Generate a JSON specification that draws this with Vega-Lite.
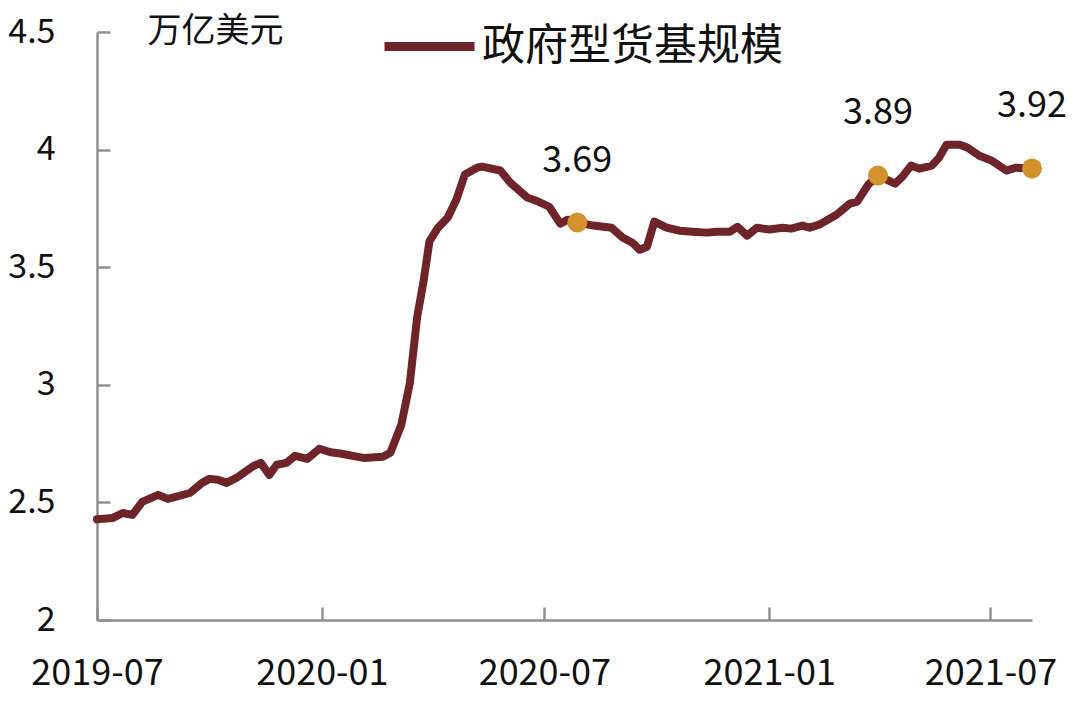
{
  "$schema": "https://vega.github.io/schema/vega-lite/v6.json",
  "width": 935,
  "height": 588,
  "autosize": {"type": "none"},
  "padding": {"left": 97, "top": 32, "right": 48, "bottom": 104},
  "background": "#ffffff",
  "config": {"view": {"stroke": null}},
  "datasets": {
    "series": [
      {"date": "2019-07-01", "value": 2.428},
      {"date": "2019-07-14", "value": 2.434},
      {"date": "2019-07-22", "value": 2.455},
      {"date": "2019-07-30", "value": 2.447},
      {"date": "2019-08-07", "value": 2.502},
      {"date": "2019-08-20", "value": 2.532},
      {"date": "2019-08-28", "value": 2.515},
      {"date": "2019-09-15", "value": 2.540},
      {"date": "2019-09-25", "value": 2.583},
      {"date": "2019-10-01", "value": 2.600},
      {"date": "2019-10-08", "value": 2.596},
      {"date": "2019-10-15", "value": 2.583},
      {"date": "2019-10-23", "value": 2.604},
      {"date": "2019-11-06", "value": 2.655},
      {"date": "2019-11-12", "value": 2.668},
      {"date": "2019-11-19", "value": 2.617},
      {"date": "2019-11-25", "value": 2.660},
      {"date": "2019-12-03", "value": 2.668},
      {"date": "2019-12-10", "value": 2.698},
      {"date": "2019-12-20", "value": 2.685},
      {"date": "2019-12-30", "value": 2.728},
      {"date": "2020-01-08", "value": 2.713},
      {"date": "2020-01-16", "value": 2.708},
      {"date": "2020-02-04", "value": 2.689},
      {"date": "2020-02-20", "value": 2.694},
      {"date": "2020-02-26", "value": 2.711},
      {"date": "2020-03-06", "value": 2.830},
      {"date": "2020-03-13", "value": 3.009},
      {"date": "2020-03-19", "value": 3.290},
      {"date": "2020-03-24", "value": 3.434},
      {"date": "2020-03-29", "value": 3.610},
      {"date": "2020-04-05", "value": 3.668},
      {"date": "2020-04-13", "value": 3.711},
      {"date": "2020-04-20", "value": 3.787},
      {"date": "2020-04-27", "value": 3.894},
      {"date": "2020-05-07", "value": 3.923},
      {"date": "2020-05-11", "value": 3.928},
      {"date": "2020-05-26", "value": 3.911},
      {"date": "2020-06-03", "value": 3.860},
      {"date": "2020-06-17", "value": 3.796},
      {"date": "2020-06-26", "value": 3.779},
      {"date": "2020-07-05", "value": 3.757},
      {"date": "2020-07-14", "value": 3.685},
      {"date": "2020-07-20", "value": 3.702},
      {"date": "2020-07-28", "value": 3.690},
      {"date": "2020-08-10", "value": 3.677},
      {"date": "2020-08-25", "value": 3.668},
      {"date": "2020-09-03", "value": 3.626},
      {"date": "2020-09-11", "value": 3.604},
      {"date": "2020-09-17", "value": 3.574},
      {"date": "2020-09-23", "value": 3.587},
      {"date": "2020-09-29", "value": 3.694},
      {"date": "2020-10-09", "value": 3.668},
      {"date": "2020-10-20", "value": 3.655},
      {"date": "2020-10-30", "value": 3.651},
      {"date": "2020-11-11", "value": 3.647},
      {"date": "2020-11-19", "value": 3.651},
      {"date": "2020-11-30", "value": 3.651},
      {"date": "2020-12-06", "value": 3.672},
      {"date": "2020-12-14", "value": 3.634},
      {"date": "2020-12-22", "value": 3.668},
      {"date": "2021-01-01", "value": 3.660},
      {"date": "2021-01-12", "value": 3.668},
      {"date": "2021-01-19", "value": 3.664},
      {"date": "2021-01-28", "value": 3.677},
      {"date": "2021-02-03", "value": 3.668},
      {"date": "2021-02-11", "value": 3.681},
      {"date": "2021-02-25", "value": 3.723},
      {"date": "2021-03-08", "value": 3.770},
      {"date": "2021-03-14", "value": 3.779},
      {"date": "2021-03-23", "value": 3.851},
      {"date": "2021-03-31", "value": 3.890},
      {"date": "2021-04-07", "value": 3.872},
      {"date": "2021-04-14", "value": 3.855},
      {"date": "2021-04-20", "value": 3.885},
      {"date": "2021-04-27", "value": 3.932},
      {"date": "2021-05-04", "value": 3.919},
      {"date": "2021-05-14", "value": 3.932},
      {"date": "2021-05-20", "value": 3.966},
      {"date": "2021-05-26", "value": 4.021},
      {"date": "2021-06-06", "value": 4.021},
      {"date": "2021-06-12", "value": 4.009},
      {"date": "2021-06-22", "value": 3.974},
      {"date": "2021-07-02", "value": 3.953},
      {"date": "2021-07-14", "value": 3.911},
      {"date": "2021-07-22", "value": 3.923},
      {"date": "2021-08-04", "value": 3.920}
    ],
    "marks": [
      {"date": "2020-07-28", "value": 3.69, "label": "3.69"},
      {"date": "2021-03-31", "value": 3.89, "label": "3.89"},
      {"date": "2021-08-04", "value": 3.92, "label": "3.92"}
    ]
  },
  "encoding": {
    "x": {
      "field": "date",
      "type": "temporal",
      "scale": {
        "type": "utc",
        "domain": [
          {"year": 2019, "month": 7, "date": 1, "utc": true},
          {"year": 2021, "month": 8, "date": 4, "utc": true}
        ],
        "nice": false
      },
      "axis": {
        "title": null,
        "values": [
          {"year": 2019, "month": 7, "date": 1, "utc": true},
          {"year": 2020, "month": 1, "date": 1, "utc": true},
          {"year": 2020, "month": 7, "date": 1, "utc": true},
          {"year": 2021, "month": 1, "date": 1, "utc": true},
          {"year": 2021, "month": 7, "date": 1, "utc": true}
        ],
        "labelExpr": "utcFormat(datum.value, '%Y-%m')",
        "grid": false,
        "domainColor": "#8f8f8f",
        "domainWidth": 2.5,
        "tickColor": "#8f8f8f",
        "tickWidth": 2.5,
        "tickSize": -13,
        "labelPadding": 49,
        "labelFont": "Noto Sans CJK SC",
        "labelFontSize": 36,
        "labelColor": "#111111",
        "labelFlush": false,
        "labelOverlap": false
      }
    },
    "y": {
      "field": "value",
      "type": "quantitative",
      "scale": {"domain": [2, 4.5], "nice": false, "zero": false},
      "axis": {
        "values": [2, 2.5, 3, 3.5, 4, 4.5],
        "format": "~g",
        "grid": false,
        "domainColor": "#8f8f8f",
        "domainWidth": 2.5,
        "tickColor": "#8f8f8f",
        "tickWidth": 2.5,
        "tickSize": -13,
        "labelPadding": 55,
        "labelFont": "Noto Sans CJK SC",
        "labelFontSize": 34,
        "labelColor": "#111111",
        "labelFlush": false,
        "labelOverlap": false,
        "title": "万亿美元",
        "titleAngle": 0,
        "titleAlign": "left",
        "titleBaseline": "middle",
        "titleX": 50,
        "titleY": -1,
        "titleFont": "Noto Sans CJK SC",
        "titleFontSize": 34,
        "titleFontWeight": "normal",
        "titleColor": "#111111"
      }
    }
  },
  "layer": [
    {
      "data": {"name": "series"},
      "mark": {"type": "line", "strokeWidth": 8, "strokeJoin": "round", "strokeCap": "round"},
      "encoding": {
        "color": {
          "datum": "政府型货基规模",
          "type": "nominal",
          "scale": {"range": ["#6E2428"]},
          "legend": {
            "title": null,
            "orient": "none",
            "legendX": 283,
            "legendY": -35,
            "padding": 0,
            "symbolType": "stroke",
            "symbolSize": 8100,
            "symbolStrokeWidth": 9,
            "labelFont": "Noto Sans CJK SC",
            "labelFontSize": 43,
            "labelColor": "#111111",
            "labelOffset": 3,
            "labelLimit": 500
          }
        }
      }
    },
    {
      "data": {"name": "marks"},
      "mark": {"type": "point", "filled": true, "size": 400, "opacity": 1, "color": "#D3922E"}
    },
    {
      "data": {"name": "marks"},
      "mark": {"type": "text", "dy": -62, "baseline": "middle", "align": "center", "font": "Noto Sans CJK SC", "fontSize": 36, "color": "#111111"},
      "encoding": {"text": {"field": "label"}}
    }
  ]
}
